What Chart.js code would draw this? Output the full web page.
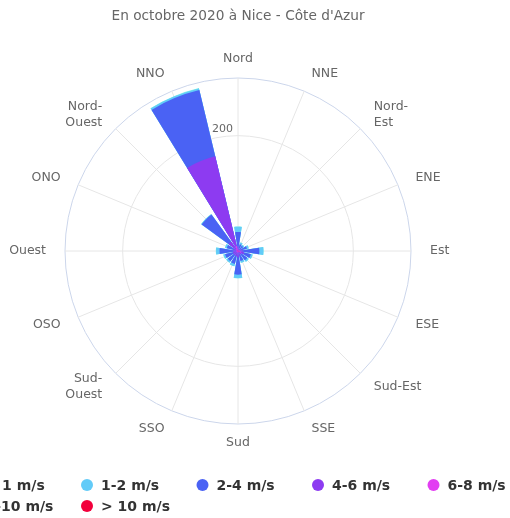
<!DOCTYPE html>
<html>
<head>
<meta charset="utf-8">
<script src="https://cdn.jsdelivr.net/npm/chart.js@4.4.1/dist/chart.umd.min.js"></script>
<style>
  body { margin: 0; background: #fff; overflow: hidden; }
  canvas { display: block; }
</style>
</head>
<body>
<canvas id="rose" width="510" height="518"></canvas>
<script>
// directions, from north clockwise
const directions = ['Nord', 'NNE', ['Nord-', 'Est'], 'ENE', 'Est', 'ESE', 'Sud-Est', 'SSE',
  'Sud', 'SSO', ['Sud-', 'Ouest'], 'OSO', 'Ouest', 'ONO', ['Nord-', 'Ouest'], 'NNO']

// speed classes (legend order) and their colours
const speedClasses = ['< 1 m/s', '1-2 m/s', '2-4 m/s', '4-6 m/s', '6-8 m/s', '8-10 m/s', '> 10 m/s']
const classColors = ['#7eeee6', '#62cbf8', '#4a62f4', '#8d3bf1', '#e23ef2', '#f2318c', '#f2003c']

// counts per direction, one array per speed class
const below1 = [0.5, 0.3, 0.3, 0.3, 0.5, 0.3, 0.3, 0.3, 0.5, 0.3, 0.3, 0.3, 0.5, 0.3, 0.3, 0.5]
const from1to2 = [9, 3, 2, 3, 7, 3, 3, 3, 6, 4, 3, 3, 6, 3, 1, 3]
const from2to4 = [25, 8, 7, 9, 28, 12, 12, 11, 30, 14, 13, 14, 24, 12, 58, 118]
const from4to6 = [5, 3, 3, 4, 5, 5, 5, 5, 8, 6, 6, 6, 5, 5, 15, 160]
const from6to8 = [2, 1, 1, 2, 2, 3, 2, 2, 2, 2, 2, 2, 2, 2, 3, 8]
const from8to10 = [1, 0, 0, 1, 1, 2, 1, 0, 1, 1, 1, 1, 1, 1, 1, 1]
const above10 = [0, 0, 0, 0, 1, 1, 0, 0, 0, 0, 0, 0, 0, 0, 1, 0]
const classValues = [below1, from1to2, from2to4, from4to6, from6to8, from8to10, above10]

// radial axis
const tickValues = [0, 200, 300]
const shownTicks = [200]

// each direction gets a 18 deg wedge, with 4.5 deg gaps; north is split in two halves
const sliceDir = [0]
const sliceAngle = [9]
for (let d = 1; d < directions.length; d++) {
  sliceDir.push(-1, d)
  sliceAngle.push(4.5, 18)
}
sliceDir.push(-1, 0)
sliceAngle.push(4.5, 9)

// stacked: the last class is innermost, so each dataset is the sum of its class and all after it
const datasets = speedClasses.map((label, k) => {
  const cum = directions.map((_, d) => {
    let s = 0
    for (let j = k; j < classValues.length; j++) s += classValues[j][d]
    return s
  })
  return {
    label: label,
    data: sliceDir.map(d => d < 0 ? 0 : cum[d]),
    backgroundColor: classColors[k],
    borderWidth: 0,
    angle: ctx => sliceAngle[ctx.dataIndex],
    order: speedClasses.length - 1 - k
  }
})

const font = '"DejaVu Sans", sans-serif'
Chart.defaults.font.family = font

// direction names + the 200 tick, placed with the radial scale
const roseLabels = {
  id: 'roseLabels',
  afterDraw(chart) {
    const sc = chart.scales.r
    const ctx = chart.ctx
    ctx.save()
    ctx.fillStyle = '#666'
    ctx.font = '12.5px ' + font
    ctx.textBaseline = 'middle'
    const dist = sc.drawingArea + 19
    directions.forEach((lab, i) => {
      const p = sc.getPointPosition(i, dist)
      const s = Math.sin(i * Math.PI / 8)
      ctx.textAlign = s > 0.1 ? 'left' : (s < -0.1 ? 'right' : 'center')
      const lines = Array.isArray(lab) ? lab : [lab]
      const lh = 16
      lines.forEach((t, j) => {
        ctx.fillText(t, p.x, p.y + (j - (lines.length - 1) / 2) * lh)
      })
    })
    ctx.font = '11px ' + font
    ctx.textAlign = 'right'
    shownTicks.forEach(v => {
      const r = sc.getDistanceFromCenterForValue(v)
      ctx.fillText(String(v), sc.xCenter - 5, sc.yCenter - r - 7)
    })
    ctx.restore()
  }
}

// legend in fixed columns like the original
const roseLegend = {
  id: 'roseLegend',
  afterDraw(chart) {
    const ctx = chart.ctx
    ctx.save()
    ctx.font = 'bold 14px ' + font
    ctx.textBaseline = 'middle'
    ctx.textAlign = 'left'
    chart.data.datasets.forEach((ds, i) => {
      const x = -28.5 + (i % 5) * 115.5
      const y = 485 + Math.floor(i / 5) * 21
      ctx.fillStyle = ds.backgroundColor
      ctx.beginPath()
      ctx.arc(x, y, 6, 0, Math.PI * 2)
      ctx.fill()
      ctx.fillStyle = '#333'
      ctx.fillText(ds.label, x + 14, y + 1)
    })
    ctx.restore()
  }
}

new Chart(document.getElementById('rose'), {
  type: 'polarArea',
  data: { labels: directions, datasets: datasets },
  options: {
    responsive: false,
    animation: false,
    devicePixelRatio: 1,
    layout: { padding: { left: 0, right: 34, top: 0, bottom: 94 } },
    scales: {
      r: {
        min: 0,
        max: 300,
        startAngle: 0,
        afterBuildTicks: sc => { sc.ticks = tickValues.map(v => ({ value: v })) },
        ticks: { display: false },
        grid: { circular: true, color: ctx => ctx.tick && ctx.tick.value === 300 ? '#ccd6eb' : '#e6e6e6' },
        angleLines: { display: true, color: '#e6e6e6' },
        pointLabels: { display: false }
      }
    },
    plugins: {
      legend: { display: false },
      tooltip: { enabled: false },
      title: {
        display: true,
        text: 'En octobre 2020 à Nice - Côte d\'Azur',
        color: '#666',
        font: { size: 13.7, weight: 'normal' },
        padding: { top: 8, bottom: 53.56 }
      }
    }
  },
  plugins: [roseLabels, roseLegend]
})
</script>
</body>
</html>
